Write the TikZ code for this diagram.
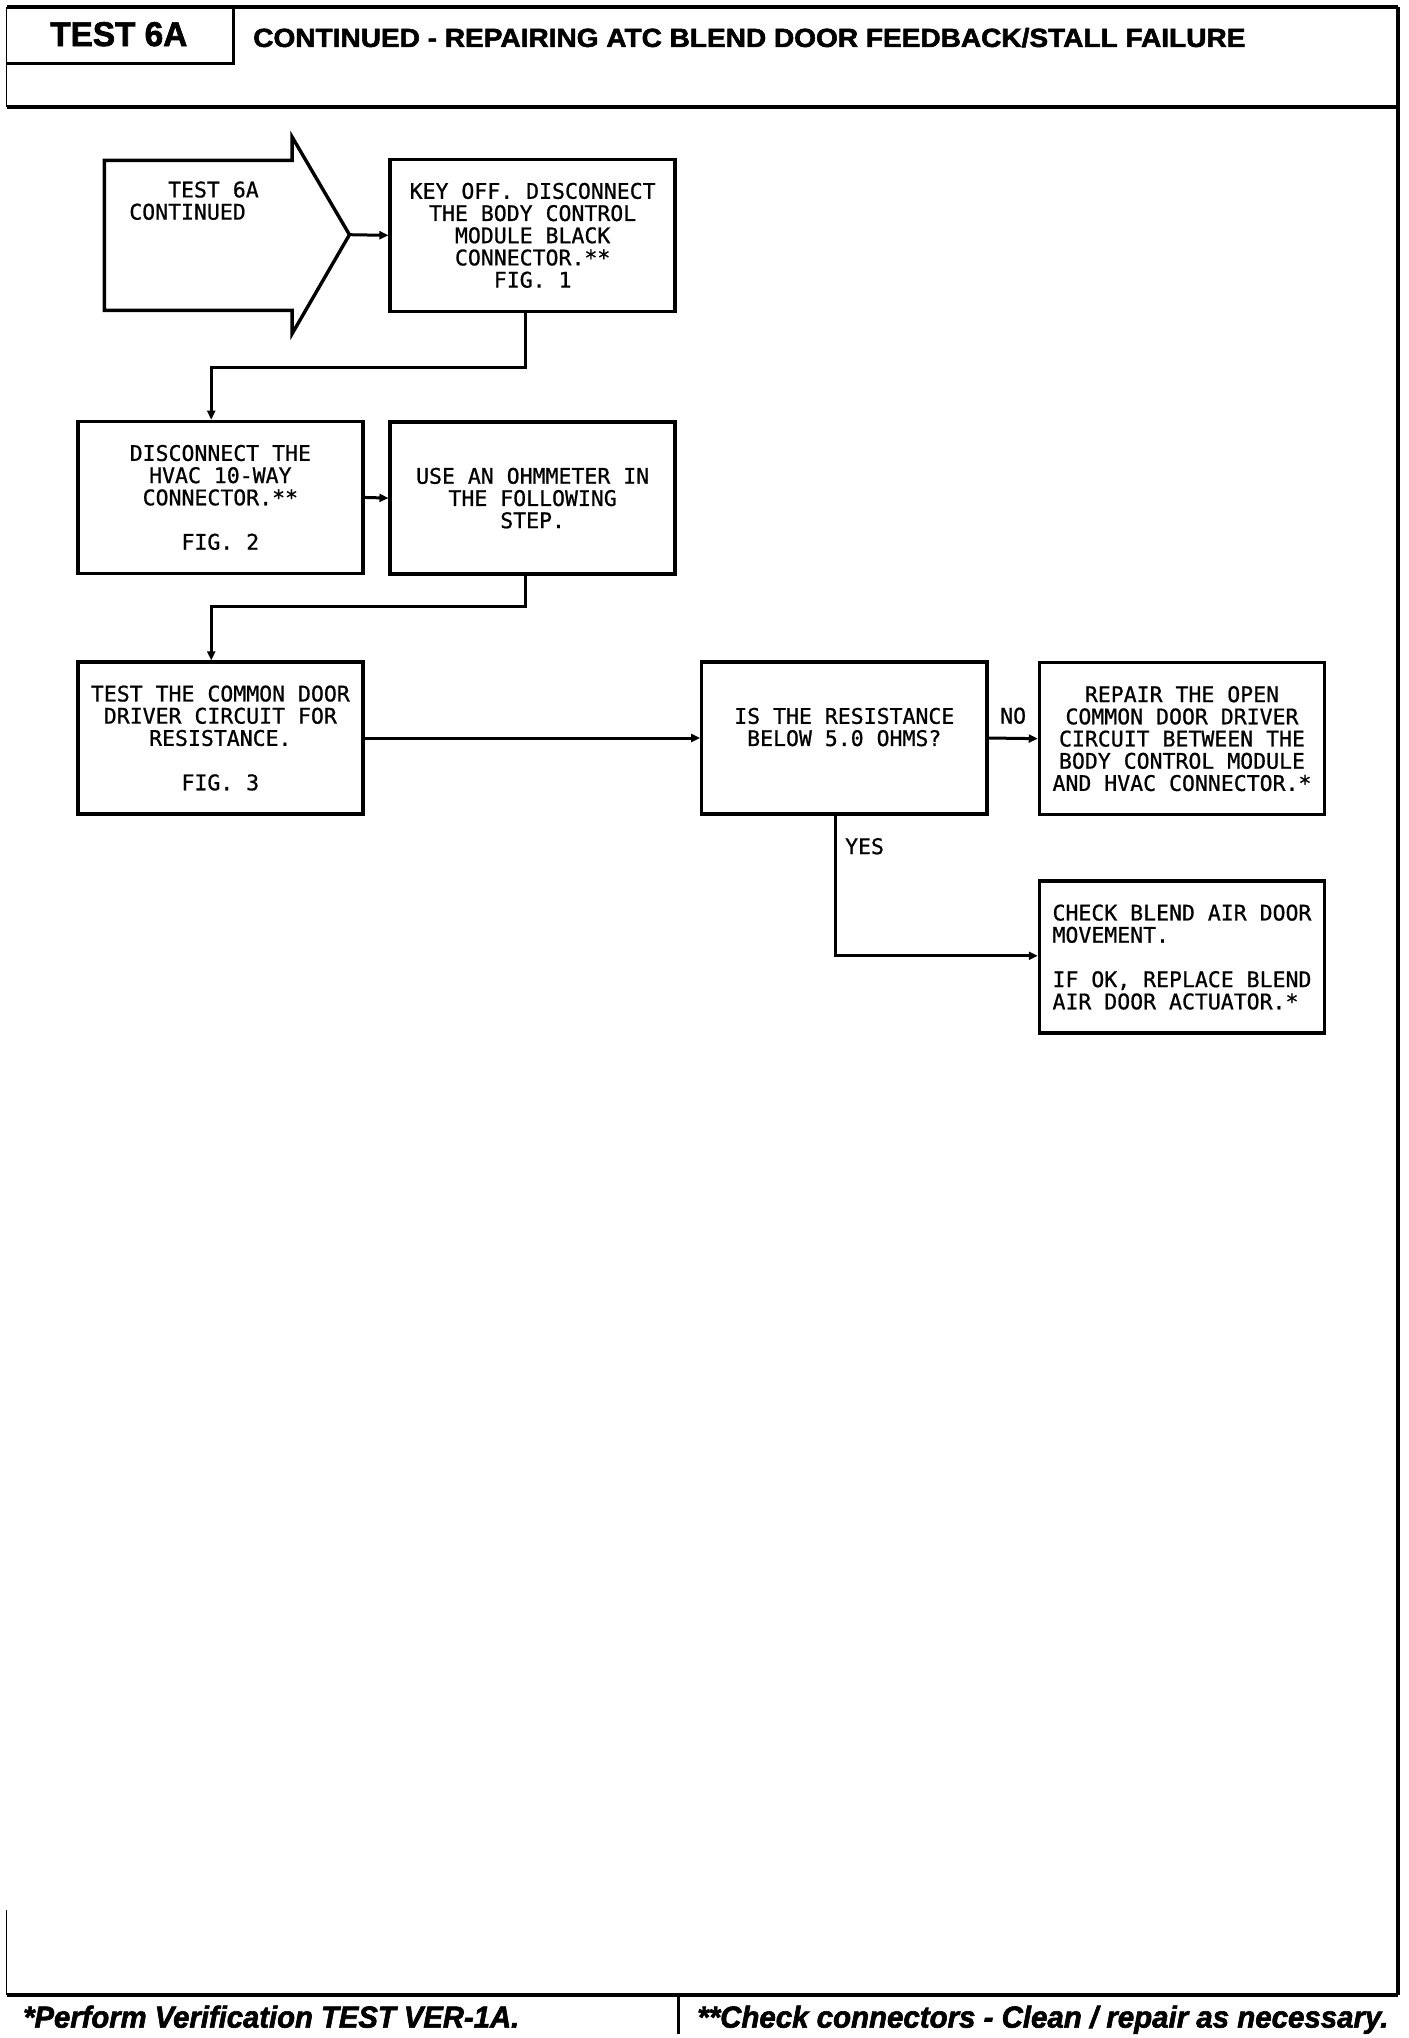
\documentclass[tikz,border=0pt]{standalone}
\usepackage{fontspec}
\setmainfont{Liberation Sans}[BoldFeatures={FakeBold=2},BoldItalicFeatures={FakeBold=2}]
\newfontfamily\plotter{DejaVu Sans Mono}[FakeBold=0.8]
\usetikzlibrary{arrows.meta}
\begin{document}
\begin{tikzpicture}[x=1.3037pt,y=-1.3037pt,
  frameline/.style={line width=4pt},
  thinframe/.style={line width=1pt},
  plot/.style={font=\plotter\fontsize{21.5}{22.2}\selectfont},
  stepbox/.style={draw,line width=3.4pt,inner sep=0pt,align=center,plot,
    minimum width=285pt,minimum height=152pt},
  arr/.style={line width=3pt,-{Triangle[length=9pt,width=8pt]}},
  lbl/.style={plot,inner sep=0pt}]
\useasboundingbox (0,0) rectangle (1080,1563);

% frame
\draw[frameline] (5,5) -- (1072,5);
\draw[frameline] (1072,5) -- (1072,1530);
\draw[frameline] (5,82) -- (1072,82);
\draw[frameline] (5,1530) -- (1072,1530);
\draw[line width=3pt] (179,5) -- (179,48.5) -- (5,48.5);
\draw[thinframe] (5,5) -- (5,82);
\draw[thinframe] (5,1465) -- (5,1530);
\draw[line width=3pt] (520,1530) -- (520,1560);

% header texts
\node[anchor=base west,inner sep=0pt] (hdr) at (38.4,35.3)
  {\resizebox{137pt}{24pt}{\bfseries TEST 6A}};
\node[anchor=base west,inner sep=0pt] (title) at (194.1,36.0)
  {\resizebox{992pt}{19pt}{\bfseries CONTINUED - REPAIRING ATC BLEND DOOR FEEDBACK/STALL FAILURE}};

% footer texts
\node[anchor=base west,inner sep=0pt] (foot1) at (17.6,1555)
  {\resizebox{496pt}{22pt}{\bfseries\itshape *Perform Verification TEST VER-1A.}};
\node[anchor=base west,inner sep=0pt] (foot2) at (534.6,1555)
  {\resizebox{691pt}{22pt}{\bfseries\itshape **Check connectors - Clean / repair as necessary.}};

% entry arrow shape
\draw[line width=3.4pt,line join=miter] (80,123) -- (224,123) -- (224,105) -- (268,180)
  -- (224,256) -- (224,238) -- (80,238) -- cycle;
\coordinate (tip) at (268,180);
\node[lbl,anchor=north west,align=left] (start) at (99,139)
  {\hphantom{XXX}TEST 6A\\CONTINUED};

% boxes
\node[stepbox] (b1) at (408.5,180.5)
  {KEY OFF. DISCONNECT\\THE BODY CONTROL\\MODULE BLACK\\CONNECTOR.**\\FIG. 1};
\node[stepbox] (b2) at (169,381.5)
  {DISCONNECT THE\\HVAC 10-WAY\\CONNECTOR.**\\[22.2pt]FIG. 2};
\node[stepbox] (b3) at (408.5,382)
  {USE AN OHMMETER IN\\THE FOLLOWING\\STEP.};
\node[stepbox] (b4) at (169,566)
  {TEST THE COMMON DOOR\\DRIVER CIRCUIT FOR\\RESISTANCE.\\[22.2pt]FIG. 3};
\node[stepbox] (b5) at (647.5,566)
  {IS THE RESISTANCE\\BELOW 5.0 OHMS?\\\mbox{}};
\node[stepbox] (b6) at (906.5,566.5)
  {REPAIR THE OPEN\\COMMON DOOR DRIVER\\CIRCUIT BETWEEN THE\\BODY CONTROL MODULE\\AND HVAC CONNECTOR.*};
\node[stepbox,align=left] (b7) at (906.5,734)
  {CHECK BLEND AIR DOOR\\MOVEMENT.\\[22.2pt]IF OK, REPLACE BLEND\\AIR DOOR ACTUATOR.*};

% connectors
\coordinate (k1) at (162,282);
\coordinate (k2) at (162,465);
\coordinate (k3) at (641,733);
\draw[arr] (tip) -- (b1.west);
\draw[arr] ([xshift=-7.2pt]b1.south) |- (k1) -- (k1 |- b2.north);
\draw[arr] (b2.east) -- (b3.west);
\draw[arr] ([xshift=-7.2pt]b3.south) |- (k2) -- (k2 |- b4.north);
\draw[arr] (b4.east) -- (b5.west);
\draw[arr] (b5.east) -- (b6.west) node[lbl,midway,above=13pt] (no) {NO};
\draw[arr] (k3 |- b5.south) -- (k3) -- (k3 -| b7.west);
\node[lbl,anchor=west] (yes) at (648,649) {YES};
\end{tikzpicture}
\end{document}
